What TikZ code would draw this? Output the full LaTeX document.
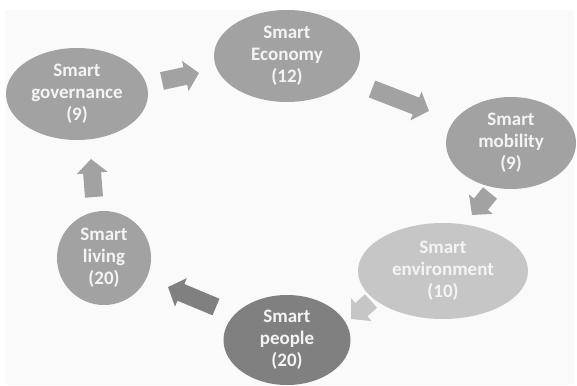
\documentclass[tikz,border=0pt]{standalone}
\usepackage{fontspec}
\setmainfont{Carlito}
\usetikzlibrary{shapes.geometric,arrows.meta}
\definecolor{bgc}{HTML}{FAFAFA}
\definecolor{midgray}{HTML}{A2A2A2}
\definecolor{lightgray}{HTML}{C6C6C6}
\definecolor{darkgray}{HTML}{808080}
\definecolor{txt}{HTML}{F4F4F4}
\tikzset{
  bubble/.style={ellipse, inner sep=0pt, text=txt, align=center,
    font=\fontsize{19}{22}\selectfont\bfseries},
  blockarrow/.style={line width=18pt, -{Triangle[width=30pt,length=14pt]}},
}
\begin{document}
\begin{tikzpicture}[x=1pt,y=-1pt]
\useasboundingbox (0,0) rectangle (577,385);
\fill[bgc] (5,10) rectangle (574,385);
% nodes
\node[bubble, fill=midgray, minimum width=142pt, minimum height=92pt] (gov) at (77,94) {Smart\\governance\\(9)};
\node[bubble, fill=midgray, minimum width=146pt, minimum height=92pt] (econ) at (287,56) {Smart\\Economy\\(12)};
\node[bubble, fill=midgray, minimum width=130pt, minimum height=92pt] (mob) at (511,143) {Smart\\mobility\\(9)};
\node[bubble, fill=lightgray, minimum width=170pt, minimum height=96pt] (env) at (443,271) {Smart\\environment\\(10)};
\node[bubble, fill=darkgray, minimum width=127pt, minimum height=90pt] (peo) at (287,340) {Smart\\people\\(20)};
\node[bubble, fill=midgray, minimum width=94pt, minimum height=94pt] (liv) at (104,258) {Smart\\living\\(20)};
% arrow end points
\coordinate (a1s) at (162,81);  \coordinate (a1e) at (199,73);
\coordinate (a2s) at (372,89);  \coordinate (a2e) at (429,111);
\coordinate (a3s) at (490,193); \coordinate (a3e) at (472,215);
\coordinate (a4s) at (371,301); \coordinate (a4e) at (351,319);
\coordinate (a5s) at (216,307); \coordinate (a5e) at (168,287);
\coordinate (a6s) at (94,197);  \coordinate (a6e) at (91,159);
% arrows
\draw[blockarrow, draw=midgray] (a1s) -- (a1e);
\draw[blockarrow, draw=midgray] (a2s) -- (a2e);
\draw[blockarrow, draw=midgray] (a3s) -- (a3e);
\draw[blockarrow, draw=lightgray] (a4s) -- (a4e);
\draw[blockarrow, draw=darkgray] (a5s) -- (a5e);
\draw[blockarrow, draw=midgray] (a6s) -- (a6e);
\end{tikzpicture}
\end{document}
